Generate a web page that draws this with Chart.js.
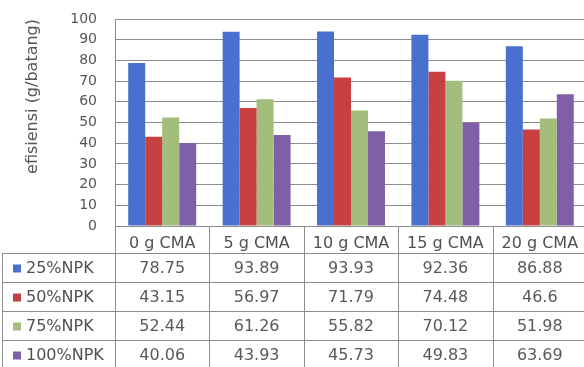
<!DOCTYPE html>
<html>
<head>
<meta charset="utf-8">
<script src="https://cdn.jsdelivr.net/npm/chart.js@4"></script>
<style>
  html, body { margin: 0; padding: 0; overflow: hidden; background: #fff; }
  #wrap { width: 590px; height: 367px; }
</style>
</head>
<body>
<div id="wrap"><canvas id="myChart"></canvas></div>
<script>
const categories = ['0 g CMA', '5 g CMA', '10 g CMA', '15 g CMA', '20 g CMA'];
const seriesNames = ['25%NPK', '50%NPK', '75%NPK', '100%NPK'];
const npk25 = [78.75, 93.89, 93.93, 92.36, 86.88];
const npk50 = [43.15, 56.97, 71.79, 74.48, 46.6];
const npk75 = [52.44, 61.26, 55.82, 70.12, 51.98];
const npk100 = [40.06, 43.93, 45.73, 49.83, 63.69];
const yTicks = [0, 10, 20, 30, 40, 50, 60, 70, 80, 90, 100];

const colors = ['#4a70cf', '#c8403f', '#a3bd7c', '#7f60a8'];
const gridColor = '#8c8c8c';
const font = 'DejaVu Sans, Verdana, sans-serif';

// data table under the plot, columns follow the x scale
const tablePlugin = {
  id: 'dataTable',
  afterDraw(chart) {
    const ctx = chart.ctx;
    const x = chart.scales.x;
    const area = chart.chartArea;
    const half = (x.getPixelForTick(1) - x.getPixelForTick(0)) / 2;
    const top = area.bottom;
    const headerBottom = 253;
    const rowH = 29;
    const tableLeft = 2;
    const bottom = headerBottom + rowH * chart.data.datasets.length;

    ctx.save();
    ctx.strokeStyle = gridColor;
    ctx.lineWidth = 1;
    ctx.beginPath();
    // vertical lines
    ctx.moveTo(area.left + 0.5, top);
    ctx.lineTo(area.left + 0.5, bottom);
    ctx.moveTo(tableLeft + 0.5, headerBottom);
    ctx.lineTo(tableLeft + 0.5, bottom);
    categories.forEach((c, i) => {
      const xr = Math.round(x.getPixelForTick(i) + half) + 0.5;
      ctx.moveTo(xr, top);
      ctx.lineTo(xr, bottom);
    });
    // horizontal lines
    for (let r = 0; r <= chart.data.datasets.length; r++) {
      const y = headerBottom + r * rowH + 0.5;
      ctx.moveTo(tableLeft, y);
      ctx.lineTo(area.right, y);
    }
    ctx.stroke();

    ctx.font = '16px ' + font;
    ctx.textBaseline = 'middle';
    chart.data.datasets.forEach((ds, r) => {
      const yc = headerBottom + r * rowH + rowH / 2 + 1;
      ctx.fillStyle = ds.backgroundColor;
      ctx.fillRect(13, yc - 4, 8, 8);
      ctx.fillStyle = '#505050';
      ctx.textAlign = 'left';
      ctx.fillText(ds.label, 26, yc);
      ctx.fillStyle = '#595959';
      ctx.textAlign = 'center';
      ds.data.forEach((v, i) => {
        ctx.fillText(String(v), x.getPixelForTick(i), yc);
      });
    });
    ctx.restore();
  }
};

const ctx = document.getElementById('myChart');

new Chart(ctx, {
  type: 'bar',
  data: {
    labels: categories,
    datasets: [npk25, npk50, npk75, npk100].map((d, i) => ({
      label: seriesNames[i],
      data: d,
      backgroundColor: colors[i],
      borderWidth: 0,
      categoryPercentage: 0.72,
      barPercentage: 1.0
    }))
  },
  options: {
    responsive: true,
    maintainAspectRatio: false,
    animation: false,
    layout: { padding: { top: 19, right: 3, left: 0, bottom: 0 } },
    plugins: {
      legend: { display: false },
      tooltip: { enabled: false }
    },
    scales: {
      x: {
        grid: { display: false },
        border: { display: false },
        ticks: {
          color: '#505050',
          font: { family: font, size: 16 },
          padding: 0,
          autoSkip: false,
          maxRotation: 0
        },
        afterFit(scale) { scale.height = 141; }
      },
      y: {
        min: 0,
        max: 100,
        afterBuildTicks(scale) { scale.ticks = yTicks.map(v => ({ value: v })); },
        grid: { color: gridColor, drawTicks: true, tickLength: 18, tickColor: 'rgba(0,0,0,0)' },
        border: { display: true, color: gridColor },
        ticks: {
          color: '#555',
          font: { family: font, size: 14 },
          padding: 0
        },
        title: {
          display: true,
          text: 'efisiensi (g/batang)',
          align: 'end',
          color: '#555',
          font: { family: font, size: 16 },
          padding: { top: 23 }
        },
        afterFit(scale) { scale.width = 115; }
      }
    }
  },
  plugins: [tablePlugin]
});
</script>
</body>
</html>
